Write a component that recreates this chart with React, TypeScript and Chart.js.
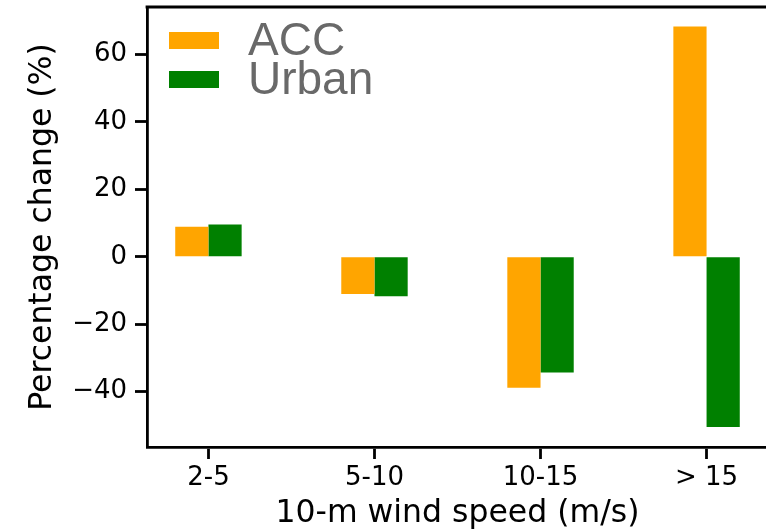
import React, { useEffect, useRef } from "react";
import { Chart, registerables } from "chart.js";

Chart.register(...registerables);

const categories = ["2-5", "5-10", "10-15", "> 15"];
const accValues = [8.9, -11.0, -38.8, 68.3];
const urbanValues = [9.6, -11.7, -34.3, -50.5];
const yTickValues = [-40, -20, 0, 20, 40, 60];
const xTickValues = [0, 1, 2, 3];

const ACC_COLOR = "#FFA500";
const URBAN_COLOR = "#008000";
const SPINE_W = 2.8;

const spinePlugin = {
  id: "spines",
  afterDraw(chart: any) {
    const { ctx, chartArea } = chart;
    ctx.save();
    ctx.strokeStyle = "#000";
    ctx.lineWidth = SPINE_W;
    ctx.beginPath();
    ctx.moveTo(chartArea.left - SPINE_W / 2, chartArea.top);
    ctx.lineTo(chartArea.right + SPINE_W / 2, chartArea.top);
    ctx.moveTo(chartArea.right, chartArea.top);
    ctx.lineTo(chartArea.right, chartArea.bottom);
    ctx.stroke();
    ctx.restore();
  },
};

const legendPlugin = {
  id: "insideLegend",
  afterDraw(chart: any) {
    const { ctx, chartArea } = chart;
    const ds = chart.data.datasets;
    ctx.save();
    ctx.font = "46px 'Liberation Sans', Arial, sans-serif";
    ctx.textBaseline = "alphabetic";
    ctx.textAlign = "left";
    ds.forEach((d: any, i: number) => {
      const cy = chartArea.top + 33.5 + i * 39;
      ctx.fillStyle = d.backgroundColor;
      ctx.fillRect(chartArea.left + 22, cy - 8.5, 50, 17);
      ctx.fillStyle = "#696969";
      ctx.fillText(d.label, chartArea.left + 101, cy + 14);
    });
    ctx.restore();
  },
};

export default function App() {
  const canvasRef = useRef<HTMLCanvasElement | null>(null);

  useEffect(() => {
    if (!canvasRef.current) return;
    const chart = new Chart(canvasRef.current, {
      type: "bar",
      data: {
        datasets: [
          {
            label: "ACC",
            data: accValues.map((v, i) => ({ x: i, y: v })),
            backgroundColor: ACC_COLOR,
            borderWidth: 0,
            categoryPercentage: 0.4,
            barPercentage: 1.0,
          },
          {
            label: "Urban",
            data: urbanValues.map((v, i) => ({ x: i, y: v })),
            backgroundColor: URBAN_COLOR,
            borderWidth: 0,
            categoryPercentage: 0.4,
            barPercentage: 1.0,
          },
        ],
      },
      options: {
        animation: false,
        responsive: false,
        maintainAspectRatio: false,
        layout: { padding: { left: 0, top: 7, right: 8, bottom: 0 } },
        plugins: {
          legend: { display: false },
          tooltip: { enabled: false },
        },
        scales: {
          x: {
            type: "linear",
            min: -0.37,
            max: 3.37,
            offset: false,
            bounds: "data",
            afterBuildTicks: (scale: any) => {
              scale.ticks = xTickValues.map((v) => ({ value: v }));
            },
            afterFit: (scale: any) => {
              scale.height = 84;
              scale.paddingLeft = 0;
              scale.paddingRight = 0;
            },
            grid: {
              display: true,
              drawOnChartArea: false,
              offset: false,
              drawTicks: true,
              tickLength: 12,
              tickWidth: SPINE_W,
              tickColor: "#000",
              color: "#000",
            },
            border: { display: true, color: "#000", width: SPINE_W },
            ticks: {
              color: "#000",
              padding: 4,
              maxRotation: 0,
              autoSkip: false,
              font: { family: "'DejaVu Sans'", size: 26 },
              callback: (v: any) => categories[Math.round(Number(v))] ?? "",
            },
            title: {
              display: true,
              text: "10-m wind speed (m/s)",
              color: "#000",
              font: { family: "'DejaVu Sans'", size: 31.5, lineHeight: 1.1 },
              padding: { top: 0, bottom: 0 },
            },
          },
          y: {
            type: "linear",
            min: -56.4,
            max: 74.1,
            bounds: "data",
            afterBuildTicks: (scale: any) => {
              scale.ticks = yTickValues.map((v) => ({ value: v }));
            },
            afterFit: (scale: any) => {
              scale.width = 147;
              scale.paddingTop = 0;
              scale.paddingBottom = 0;
            },
            grid: {
              display: true,
              drawOnChartArea: false,
              drawTicks: true,
              tickLength: 12,
              tickWidth: SPINE_W,
              tickColor: "#000",
              color: "#000",
            },
            border: { display: true, color: "#000", width: SPINE_W },
            ticks: {
              color: "#000",
              padding: 8,
              autoSkip: false,
              font: { family: "'DejaVu Sans'", size: 26 },
              callback: (v: any) => {
                const n = Number(v);
                return n < 0 ? "\u2212" + Math.abs(n) : String(n);
              },
            },
            title: {
              display: true,
              text: "Percentage change (%)",
              color: "#000",
              font: { family: "'DejaVu Sans'", size: 31.5, lineHeight: 1.1 },
              padding: { top: 25, bottom: 0 },
            },
          },
        },
      },
      plugins: [spinePlugin, legendPlugin],
    } as any);
    return () => chart.destroy();
  }, []);

  return (
    <div
      style={{
        position: "fixed",
        left: 0,
        top: 0,
        width: 766,
        height: 531,
        overflow: "hidden",
        background: "#fff",
      }}
    >
      <canvas ref={canvasRef} width={776} height={531} style={{ display: "block" }} />
    </div>
  );
}
